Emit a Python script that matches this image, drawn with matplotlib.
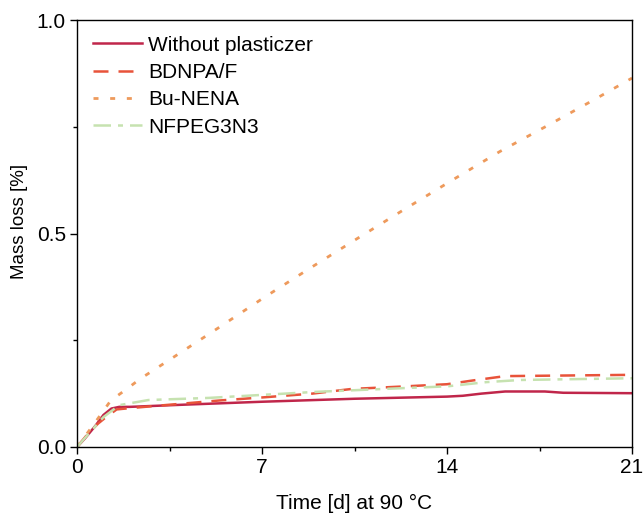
import matplotlib
matplotlib.use("Agg")
import matplotlib.pyplot as plt
from matplotlib.ticker import MultipleLocator

plt.rcParams['font.family'] = ['Liberation Sans', 'DejaVu Sans']

# Data (day, mass loss %)
t_without = [0, 0.3, 0.7, 1.0, 1.3, 1.6, 2.0, 4.0, 7.0, 10.5, 14.0, 14.6, 15.3, 16.2, 17.7, 18.4, 21.0]
m_without = [0, 0.02, 0.05, 0.075, 0.09, 0.094, 0.094, 0.099, 0.106, 0.113, 0.118, 0.120, 0.125, 0.130, 0.130, 0.127, 0.126]

t_bdnpa = [0, 0.4, 0.8, 1.1, 1.5, 2.0, 3.5, 5.4, 7.0, 8.9, 10.4, 12.1, 14.0, 15.0, 16.2, 21.0]
m_bdnpa = [0, 0.03, 0.055, 0.07, 0.088, 0.091, 0.099, 0.109, 0.116, 0.125, 0.136, 0.141, 0.147, 0.156, 0.166, 0.169]

t_bunena = [0, 0.6, 1.28, 1.82, 2.4, 3.57, 5.35, 7.1, 8.9, 10.6, 12.4, 14.2, 16.0, 17.9, 19.7, 21.0]
m_bunena = [0, 0.05, 0.109, 0.133, 0.160, 0.207, 0.279, 0.351, 0.422, 0.488, 0.557, 0.625, 0.692, 0.756, 0.818, 0.864]

t_nfpeg = [0, 0.5, 1.0, 1.6, 2.7, 5.0, 7.0, 9.0, 10.5, 12.0, 14.0, 15.5, 16.8, 21.0]
m_nfpeg = [0, 0.035, 0.07, 0.098, 0.110, 0.115, 0.122, 0.129, 0.133, 0.137, 0.142, 0.152, 0.157, 0.161]

labels = ["Without plasticzer", "BDNPA/F", "Bu-NENA", "NFPEG3N3"]

fig = plt.figure(figsize=(6.44, 5.16), dpi=100)
ax = fig.add_axes([77/644, 1-447/516, (632-77)/644, (447-20)/516])

ax.plot(t_without, m_without, color='#C0264A', lw=1.8, label=labels[0])
ax.plot(t_bdnpa, m_bdnpa, color='#E8533A', lw=1.8, dashes=(6, 4), label=labels[1])
ax.plot(t_bunena, m_bunena, color='#EE9A5C', lw=2.0, dashes=(1.8, 4.2), label=labels[2])
ax.plot(t_nfpeg, m_nfpeg, color='#C6E2B0', lw=1.8, dashes=(7, 2.8, 2, 2.8), label=labels[3])

ax.set_xlim(0, 21)
ax.set_ylim(0, 1.0)
ax.xaxis.set_major_locator(MultipleLocator(7))
ax.xaxis.set_minor_locator(MultipleLocator(3.5))
ax.yaxis.set_major_locator(MultipleLocator(0.5))
ax.yaxis.set_minor_locator(MultipleLocator(0.25))
ax.xaxis.set_major_formatter(matplotlib.ticker.FuncFormatter(lambda v, p: f"{int(round(v))}"))
ax.yaxis.set_major_formatter(matplotlib.ticker.FormatStrFormatter('%.1f'))
ax.tick_params(which='major', direction='out', length=5, width=1, labelsize=15, top=False, right=False, pad=3)
ax.tick_params(which='minor', direction='out', length=3, width=1, top=False, right=False)
for s in ax.spines.values():
    s.set_linewidth(1.0)

ax.set_xlabel("Time [d] at 90 °C", fontsize=15, labelpad=12)
ax.set_ylabel("Mass loss [%]", fontsize=13.5)
ax.yaxis.set_label_coords(-0.088, 0.529)

leg = ax.legend(loc='upper left', frameon=False, fontsize=15, handlelength=2.35,
                handletextpad=0.3, labelspacing=0.4, borderaxespad=0.2, borderpad=0.55)

fig.savefig("out.png", dpi=100)
